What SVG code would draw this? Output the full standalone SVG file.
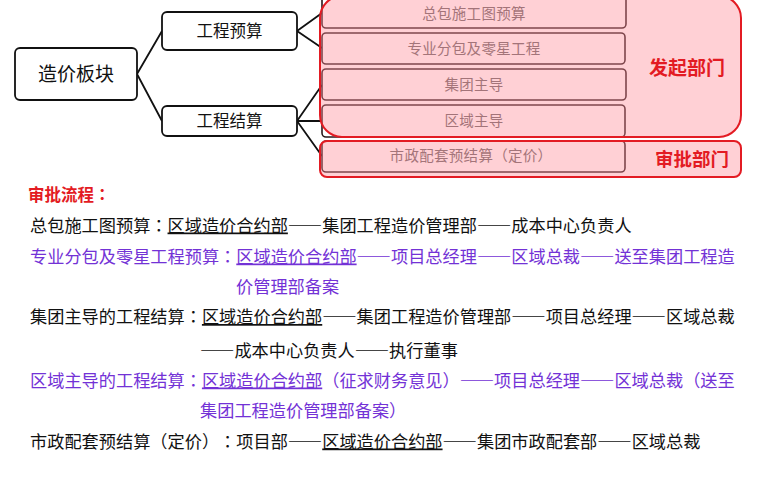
<svg xmlns="http://www.w3.org/2000/svg" width="760" height="499" viewBox="0 0 760 499">
<style>
text{font-family:"Noto Sans CJK SC","Noto Sans",sans-serif;text-spacing-trim:space-all;font-feature-settings:"fwid" 1;font-variant-east-asian:full-width}
.c{font-family:"Noto Sans CJK JP","Noto Sans CJK SC",sans-serif}
.box{fill:#fff;stroke:#111;stroke-width:1.8}
.ibox{fill:#fff;stroke:#2a1a1c;stroke-width:1.6}
.lbl{font-size:16.5px;fill:#111;text-anchor:middle}
.ilbl{font-size:14.5px;fill:#666;text-anchor:middle;letter-spacing:0.3px}
.ov{fill:#ff8a96;fill-opacity:0.4;stroke:#e31b23;stroke-width:2}
.red{fill:#e31b23;font-weight:bold;text-anchor:middle}
.conn{stroke:#111;stroke-width:1.8;fill:none}
.ln{font-size:17.2px}
.k{fill:#111}
.p{fill:#7332d6}
.u{text-decoration:underline}
</style>
<rect width="760" height="499" fill="#fff"/>
<g id="connectors">
<path class="conn" d="M137 74 L162 31 M137 74 L162 121"/>
<path class="conn" d="M297 31 L322 13 M297 31 L322 48"/>
<path class="conn" d="M297 121 L322 85 M297 121 L322 121 M297 121 L322 156"/>
</g>
<g id="n-zaojia"><rect class="box" x="15" y="48" width="122" height="52" rx="5"/><text class="lbl" x="76" y="81" style="font-size:19px">造价板块</text></g>
<g id="n-yusuan"><rect class="box" x="162" y="12" width="135" height="38" rx="5"/><text class="lbl" x="229.5" y="37">工程预算</text></g>
<g id="n-jiesuan"><rect class="box" x="162" y="106" width="135" height="30" rx="5"/><text class="lbl" x="229.5" y="127">工程结算</text></g>
<g id="n-b1"><rect class="ibox" x="322" y="-8" width="304" height="36" rx="4"/><text class="ilbl" x="474" y="18.5">总包施工图预算</text></g>
<g id="n-b2"><rect class="ibox" x="322" y="33" width="303" height="31" rx="4"/><text class="ilbl" x="474" y="53.5">专业分包及零星工程</text></g>
<g id="n-b3"><rect class="ibox" x="322" y="69" width="304" height="31" rx="4"/><text class="ilbl" x="474" y="89.5">集团主导</text></g>
<g id="n-b4"><rect class="ibox" x="322" y="105" width="303" height="32" rx="4"/><text class="ilbl" x="474" y="125.5">区域主导</text></g>
<g id="n-b5"><rect class="ibox" x="322" y="141" width="303" height="31" rx="4"/><text class="ilbl" x="471" y="160.5">市政配套预结算（定价）</text></g>
<g id="g-faqi"><rect class="ov" x="320" y="-4" width="421" height="141" rx="22"/><text class="red" x="687" y="75" style="font-size:19px">发起部门</text></g>
<g id="g-shenpi"><rect class="ov" x="320" y="141" width="421" height="36" rx="7"/><text class="red" x="692" y="165.5" style="font-size:18.5px">审批部门</text></g>
<g id="process">
<text x="28" y="201" style="font-size:16.5px;font-weight:bold;fill:#e31b23">审批流程<tspan class="c">：</tspan></text>
<text class="ln k" x="30" y="231.5">总包施工图预算<tspan class="c">：</tspan><tspan class="u">区域造价合约部</tspan>——集团工程造价管理部——成本中心负责人</text>
<text class="ln p" x="30" y="262.5">专业分包及零星工程预算<tspan class="c">：</tspan><tspan class="u">区域造价合约部</tspan>——项目总经理——区域总裁——送至集团工程造</text>
<text class="ln p" x="236" y="293">价管理部备案</text>
<text class="ln k" x="30" y="323">集团主导的工程结算<tspan class="c">：</tspan><tspan class="u">区域造价合约部</tspan>——集团工程造价管理部——项目总经理——区域总裁</text>
<text class="ln k" x="200" y="356.5">——成本中心负责人——执行董事</text>
<text class="ln p" x="30" y="386.5">区域主导的工程结算<tspan class="c">：</tspan><tspan class="u">区域造价合约部</tspan>（征求财务意见）——项目总经理——区域总裁（送至</text>
<text class="ln p" x="200" y="416.5">集团工程造价管理部备案）</text>
<text class="ln k" x="30" y="447.5">市政配套预结算（定价）<tspan class="c">：</tspan>项目部——<tspan class="u">区域造价合约部</tspan>——集团市政配套部——区域总裁</text>
</g>
</svg>
